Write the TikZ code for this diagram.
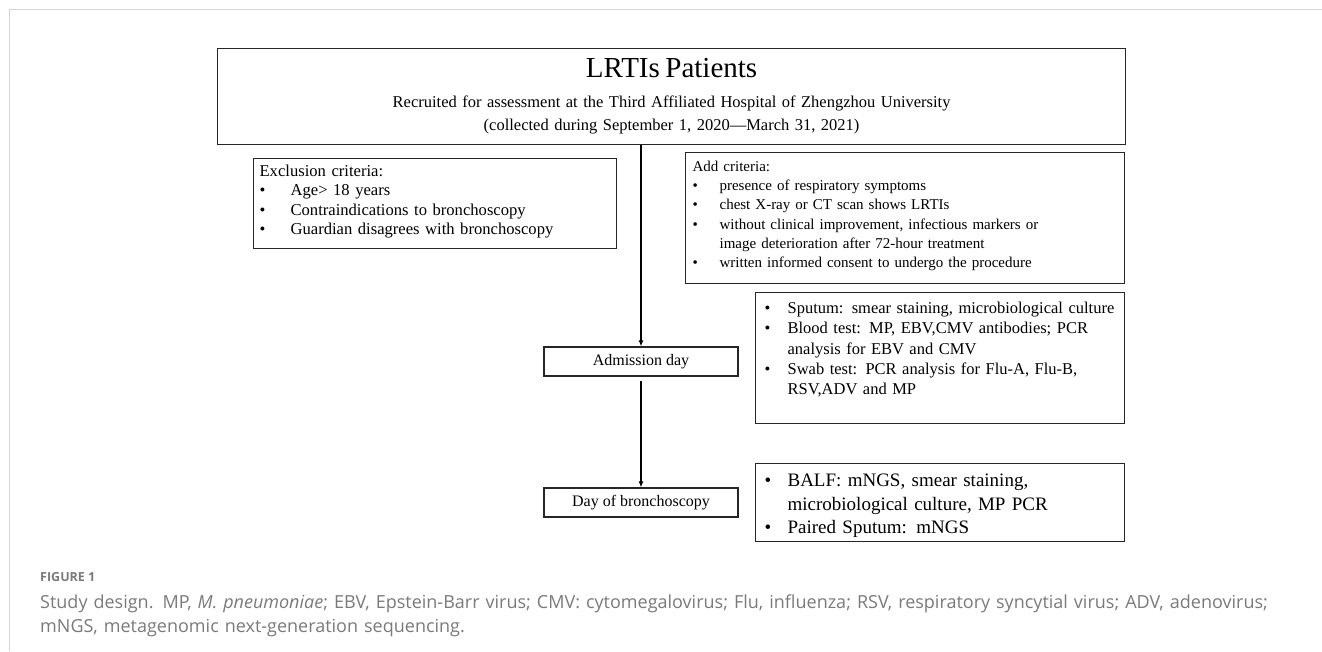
\documentclass[tikz,border=0pt]{standalone}
\usepackage{fontspec}
\setmainfont{Liberation Serif}
\newfontfamily\capfont{Open Sans}
\usetikzlibrary{arrows.meta}
\definecolor{framegray}{HTML}{D4D4D4}
\definecolor{capgray}{HTML}{7A7A7A}
\newcommand{\bul}[1][31pt]{\makebox[#1][l]{\textbullet}}

\begin{document}
\begin{tikzpicture}[x=1pt,y=-1pt,>={Latex[length=6pt,width=5pt]},
  box/.style={draw=black!85,line width=1.2pt,anchor=north west,align=left,inner xsep=6pt,inner ysep=0pt},
  daybox/.style={draw=black!85,line width=1.2pt,minimum width=194pt,minimum height=29pt,inner sep=0pt,
    font=\fontsize{16}{19}\selectfont}]
  \useasboundingbox (0,0) rectangle (1322,651);
  \draw[framegray,line width=1pt] (9.5,651) -- (9.5,9.5) -- (1322,9.5);

  % patients
  \node[box,align=center,inner xsep=4pt,text width=900pt,text height=28.6pt,text depth=67.4pt,
        font=\fontsize{16.5}{23}\selectfont] (top) at (217,48)
    {{\fontsize{29}{29}\selectfont LRTIs Patients}\\[7pt]
     Recruited for assessment at the Third Affiliated Hospital of Zhengzhou University\\
     (collected during September 1, 2020—March 31, 2021)};

  % criteria
  \node[box,text width=351pt,text height=17.6pt,text depth=72.4pt,
        font=\fontsize{16.6}{19.5}\selectfont] (excl) at (253,158)
    {Exclusion criteria:\\
     \bul Age> 18 years\\
     \bul Contraindications to bronchoscopy\\
     \bul Guardian disagrees with bronchoscopy};
  \node[box,inner xsep=7pt,text width=425pt,text height=18.5pt,text depth=112.5pt,
        font=\fontsize{15}{19.3}\selectfont] (add) at (685,152)
    {Add criteria:\\
     \bul[27pt]presence of respiratory symptoms\\
     \bul[27pt]chest X-ray or CT scan shows LRTIs\\
     \bul[27pt]without clinical improvement, infectious markers or\\
     \hspace*{27pt}image deterioration after 72-hour treatment\\
     \bul[27pt]written informed consent to undergo the procedure};

  % days
  \node[daybox] (adm) at (641,361.5) {Admission day};
  \node[daybox] (bronch) at (641,502.5) {Day of bronchoscopy};

  % samples
  \node[box,inner xsep=9pt,text width=351pt,text height=21pt,text depth=110pt,
        font=\fontsize{16.5}{20.3}\selectfont] (tests) at (755,292)
    {\bul[23pt]Sputum: smear staining, microbiological culture\\
     \bul[23pt]Blood test: MP, EBV,CMV antibodies; PCR\\
     \hspace*{23pt}analysis for EBV and CMV\\
     \bul[23pt]Swab test: PCR analysis for Flu-A, Flu-B,\\
     \hspace*{23pt}RSV,ADV and MP};
  \node[box,inner xsep=9pt,text width=351pt,text height=23pt,text depth=55pt,
        font=\fontsize{19}{23.5}\selectfont] (balf) at (755,463)
    {\bul[23pt]BALF: mNGS, smear staining,\\
     \hspace*{23pt}microbiological culture, MP PCR\\
     \bul[23pt]Paired Sputum: mNGS};

  \draw[->,line width=1.2pt] (top.south -| adm.north) -- (adm.north);
  \draw[->,line width=1.2pt,shorten <=4pt] (adm) -- (bronch);

  % caption
  \node[anchor=base west,inner sep=0pt,text=capgray,
        font=\capfont\bfseries\fontsize{12.5}{15}\selectfont] (fig) at (40,581.5) {FIGURE 1};
  \node[anchor=base west,inner sep=0pt,text width=1275pt,align=left,text=capgray,
        font=\capfont\fontsize{18}{24}\selectfont] (cap) at (40,608)
    {Study design. MP, \textit{M. pneumoniae}; EBV, Epstein-Barr virus; CMV: cytomegalovirus; Flu, influenza; RSV, respiratory syncytial virus; ADV, adenovirus;\\
     mNGS, metagenomic next-generation sequencing.};
\end{tikzpicture}
\end{document}
